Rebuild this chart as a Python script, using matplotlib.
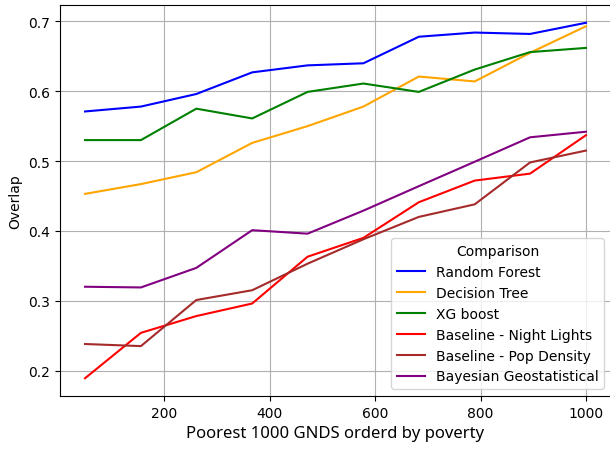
import matplotlib

matplotlib.use("Agg")
import matplotlib.pyplot as plt

# Poorest N GNDs, ordered by poverty
n_gnds = [50, 156, 261, 367, 472, 578, 683, 789, 894, 1000]

random_forest = [0.571, 0.578, 0.596, 0.627, 0.637, 0.640, 0.678, 0.684, 0.682, 0.698]
decision_tree = [0.453, 0.467, 0.484, 0.526, 0.550, 0.578, 0.621, 0.614, 0.655, 0.693]
xg_boost = [0.530, 0.530, 0.575, 0.561, 0.599, 0.611, 0.599, 0.631, 0.656, 0.662]
night_lights = [0.189, 0.254, 0.278, 0.296, 0.363, 0.390, 0.441, 0.472, 0.482, 0.537]
pop_density = [0.238, 0.235, 0.301, 0.315, 0.353, 0.388, 0.420, 0.438, 0.498, 0.515]
bayesian_geo = [0.320, 0.319, 0.347, 0.401, 0.396, 0.429, 0.464, 0.499, 0.534, 0.542]

series = [
    ("Random Forest", random_forest, "blue"),
    ("Decision Tree", decision_tree, "orange"),
    ("XG boost", xg_boost, "green"),
    ("Baseline - Night Lights", night_lights, "red"),
    ("Baseline - Pop Density", pop_density, "brown"),
    ("Bayesian Geostatistical", bayesian_geo, "purple"),
]

fig = plt.figure(figsize=(6.10, 4.52), dpi=100)
ax = fig.add_axes([60 / 610, 55 / 452, 551 / 610, 391 / 452])

for name, vals, color in series:
    ax.plot(n_gnds, vals, color=color, linewidth=1.5, label=name)

ax.grid(True, color="#b0b0b0", linewidth=0.8)
ax.set_ylabel("Overlap", fontsize=10)
ax.set_xlabel("Poorest 1000 GNDS orderd by poverty", fontsize=12, family="Noto Sans")
ax.tick_params(labelsize=10)

ax.legend(title="Comparison", loc="lower right", fontsize=10, title_fontsize=10)

fig.savefig("out.png", dpi=100)
